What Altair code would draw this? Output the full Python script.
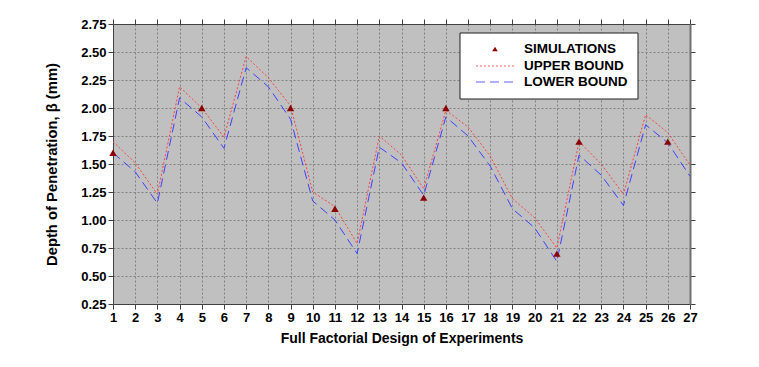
import altair as alt
import pandas as pd

experiments = list(range(1, 28))
upper_bound = [1.70, 1.51, 1.23, 2.19, 2.00, 1.74, 2.46, 2.27, 2.02, 1.25,
               1.12, 0.79, 1.75, 1.58, 1.28, 1.98, 1.83, 1.57, 1.19, 1.02,
               0.75, 1.70, 1.50, 1.23, 1.94, 1.78, 1.49]
lower_bound = [1.60, 1.43, 1.15, 2.09, 1.92, 1.64, 2.36, 2.19, 1.90, 1.17,
               1.00, 0.70, 1.65, 1.51, 1.22, 1.92, 1.75, 1.48, 1.10, 0.93,
               0.63, 1.58, 1.40, 1.13, 1.85, 1.69, 1.39]
sim_x = [1, 5, 9, 11, 15, 16, 21, 22, 26]
sim_y = [1.6, 2.0, 2.0, 1.1, 1.2, 2.0, 0.7, 1.7, 1.7]

legend_labels = ["SIMULATIONS", "UPPER BOUND", "LOWER BOUND"]
y_ticks = [0.25, 0.50, 0.75, 1.00, 1.25, 1.50, 1.75, 2.00, 2.25, 2.50, 2.75]

df = pd.DataFrame({"x": experiments, "upper": upper_bound, "lower": lower_bound})
sim = pd.DataFrame({"x": sim_x, "y": sim_y})

W, H = 577, 280
FONT = "Liberation Sans"
AX = "#404040"

xscale = alt.Scale(domain=[1, 27], nice=False, zero=False)
yscale = alt.Scale(domain=[0.25, 2.75], nice=False, zero=False)

xaxis = alt.Axis(values=experiments, format="d", title="Full Factorial Design of Experiments",
                 grid=True, gridDash=[2, 2], gridColor="#808080", gridWidth=1,
                 tickSize=5, tickColor=AX, domainColor=AX, labelFlush=False,
                 labelFont=FONT, labelFontWeight="bold", labelFontSize=13, labelColor="black",
                 labelPadding=2, titleFont=FONT, titleFontWeight="bold", titleFontSize=14,
                 titleColor="black", titleY=27, titleBaseline="top",
                 labelOverlap=False)
yaxis = alt.Axis(values=y_ticks, format=".2f",
                 title="Depth of Penetration, β (mm)",
                 grid=True, gridDash=[2, 2], gridColor="#808080", gridWidth=1,
                 tickSize=5, tickColor=AX, domainColor=AX, labelFlush=False,
                 labelFont=FONT, labelFontWeight="bold", labelFontSize=13, labelColor="black",
                 labelPadding=2, titleFont=FONT, titleFontWeight="bold", titleFontSize=14.8,
                 titleColor="black", titlePadding=21, labelOverlap=False)
xaxis_top = alt.Axis(orient="top", values=experiments, labels=False, title=None, grid=False,
                     tickSize=5, tickColor=AX, domainColor=AX)
yaxis_right = alt.Axis(orient="right", values=y_ticks, labels=False,
                       title=None, grid=False, tickSize=5, tickColor=AX,
                       domainColor="#707070", domainWidth=2)

base = alt.Chart(df)

upper = base.mark_line(color="#ff4040", strokeDash=[2, 2], strokeWidth=1).encode(
    x=alt.X("x:Q", scale=xscale, axis=xaxis),
    y=alt.Y("upper:Q", scale=yscale, axis=yaxis),
)
lower = base.mark_line(color="#4040ff", strokeDash=[9, 5], strokeWidth=1).encode(
    x=alt.X("x:Q", scale=xscale, axis=xaxis_top),
    y=alt.Y("lower:Q", scale=yscale, axis=yaxis_right),
)
points = alt.Chart(sim).mark_point(shape="triangle-up", filled=True, color="#8b0000",
                                   size=55, opacity=1).encode(
    x=alt.X("x:Q", scale=xscale, axis=None),
    y=alt.Y("y:Q", scale=yscale, axis=None),
)

one = pd.DataFrame({"k": [0]})
legend_box = alt.Chart(one).mark_rect(fill="white", stroke="#202020", strokeWidth=1).encode(
    x=alt.value(347), x2=alt.value(525), y=alt.value(9), y2=alt.value(75))
legend_tri = alt.Chart(one).mark_point(shape="triangle-up", filled=True,
                                       color="#8b0000", size=30, opacity=1).encode(
    x=alt.value(382), y=alt.value(25))
legend_up = alt.Chart(one).mark_rule(color="#ff6060", strokeDash=[2, 2],
                                     strokeWidth=1).encode(
    x=alt.value(363), x2=alt.value(401), y=alt.value(42))
legend_lo = alt.Chart(one).mark_rule(color="#6060ff", strokeDash=[9, 5],
                                     strokeWidth=1).encode(
    x=alt.value(363), x2=alt.value(401), y=alt.value(58))

legend_texts = []
for lab, yy in zip(legend_labels, [25, 42, 58]):
    legend_texts.append(
        alt.Chart(one).mark_text(align="left", baseline="middle", font=FONT,
                                 fontWeight="bold", fontSize=13.5, color="black",
                                 text=lab).encode(x=alt.value(411), y=alt.value(yy))
    )

chart = alt.layer(upper, lower, points, legend_box, legend_tri, legend_up, legend_lo,
                  *legend_texts).resolve_axis(x="independent", y="independent").properties(
    width=W, height=H,
    autosize=alt.AutoSizeParams(type="none"),
    padding={"left": 105, "top": 16, "right": 60, "bottom": 50},
).configure_view(fill="#c0c0c0", stroke=None)

chart.save("out.html", embed_options={"renderer": "svg", "actions": False})
